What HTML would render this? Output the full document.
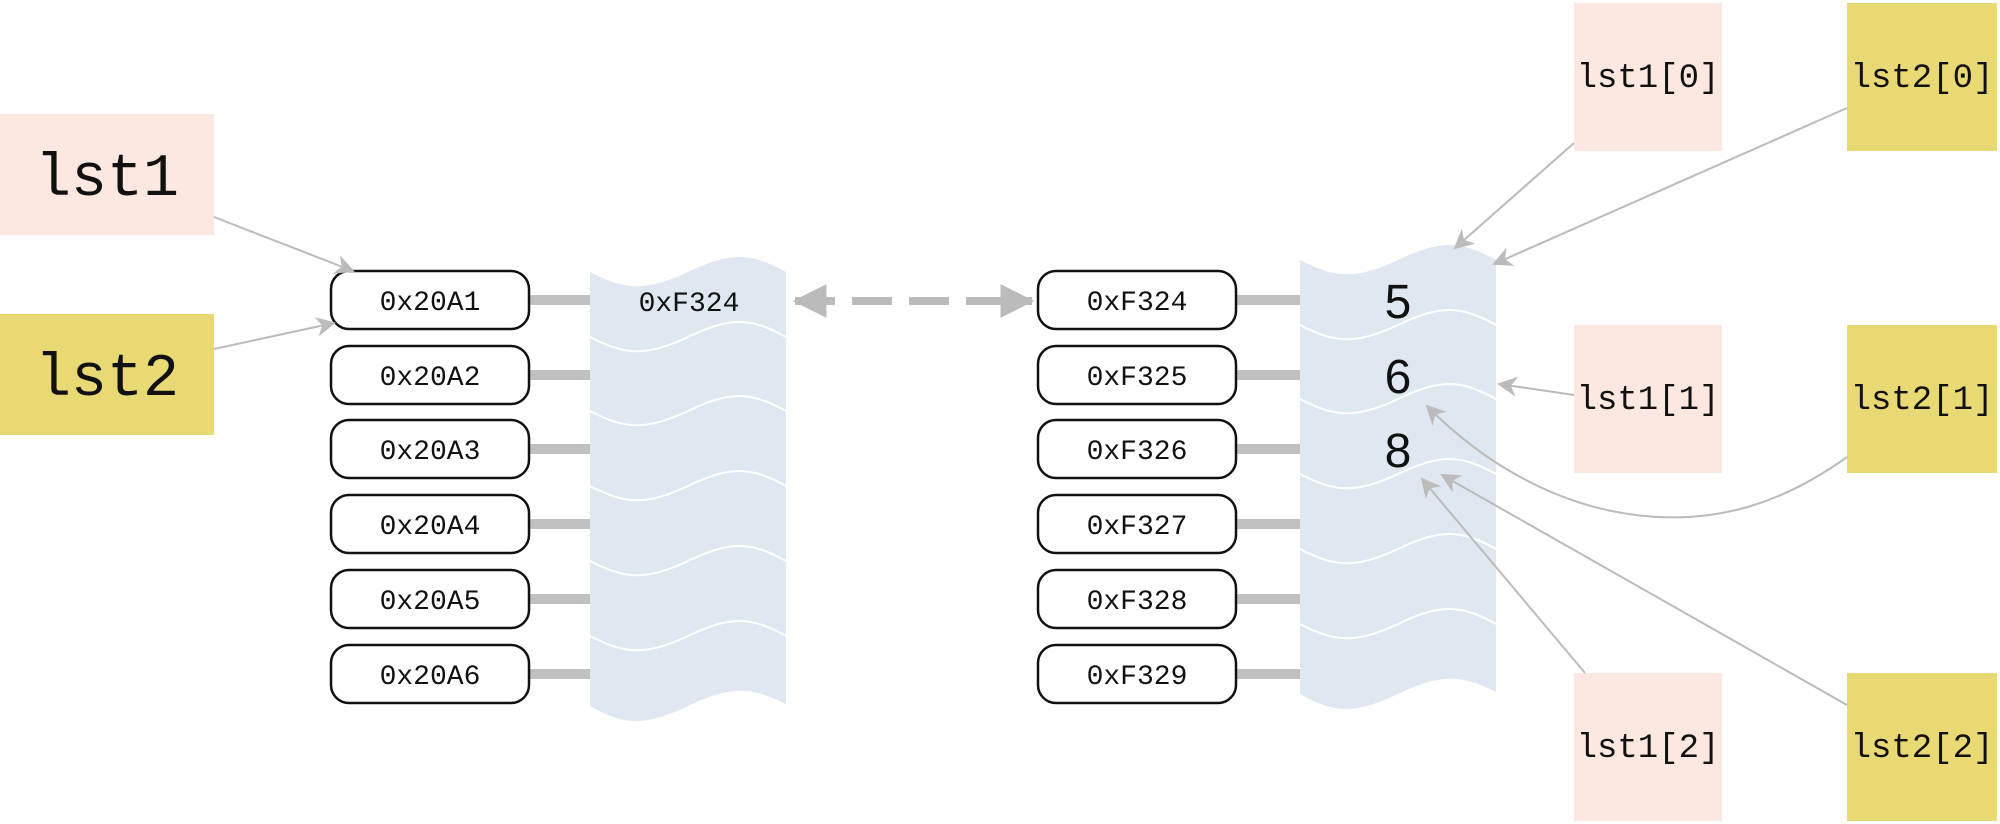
<!DOCTYPE html>
<html><head><meta charset="utf-8"><style>
html,body{margin:0;padding:0;background:#fff;}
svg{display:block;}
text{font-family:"Liberation Mono",monospace;fill:#111;}
</style></head><body>
<svg width="2000" height="824" viewBox="0 0 2000 824" xmlns="http://www.w3.org/2000/svg">
<defs>
<marker id="ah" viewBox="0 0 20 20" refX="18" refY="10" markerWidth="20" markerHeight="20" markerUnits="userSpaceOnUse" orient="auto">
<path d="M0,0 L20,10 L0,20 L6,10 Z" fill="#bbb"/>
</marker>
<marker id="big" viewBox="0 0 30 30" refX="28" refY="15" markerWidth="34" markerHeight="34" markerUnits="userSpaceOnUse" orient="auto-start-reverse">
<path d="M0,0 L30,15 L0,30 Z" fill="#bbb"/>
</marker>
<g id="strip">
<path d="M0,272 C35,290 55,292 98,272 C140,252 160,252 196,272 L196,704 C160,686 140,686 98,706 C55,726 35,726 0,706 Z" fill="#dfe7f0"/>
<g fill="none" stroke="#fff" stroke-width="2">
<path d="M0,337 C35,355 55,357 98,337 C140,317 160,317 196,337"/>
<path d="M0,411 C35,429 55,431 98,411 C140,391 160,391 196,411"/>
<path d="M0,486 C35,504 55,506 98,486 C140,466 160,466 196,486"/>
<path d="M0,561 C35,579 55,581 98,561 C140,541 160,541 196,561"/>
<path d="M0,636 C35,654 55,656 98,636 C140,616 160,616 196,636"/>
</g>
</g>
</defs>

<rect x="0" y="114" width="214" height="121" fill="#fce8e1"/>
<text x="107" y="195" font-size="60" text-anchor="middle">lst1</text>
<rect x="0" y="314" width="214" height="121" fill="#e8d974"/>
<text x="107" y="395" font-size="60" text-anchor="middle">lst2</text>

<use href="#strip" x="590" y="0"/>
<text x="689" y="311" font-size="28" text-anchor="middle">0xF324</text>

<g font-size="28" text-anchor="middle">
<g fill="#c0c0c0">
<rect x="529" y="295" width="61" height="10"/><rect x="529" y="370" width="61" height="10"/>
<rect x="529" y="444" width="61" height="10"/><rect x="529" y="519" width="61" height="10"/>
<rect x="529" y="594" width="61" height="10"/><rect x="529" y="669" width="61" height="10"/>
<rect x="1236" y="295" width="64" height="10"/><rect x="1236" y="370" width="64" height="10"/>
<rect x="1236" y="444" width="64" height="10"/><rect x="1236" y="519" width="64" height="10"/>
<rect x="1236" y="594" width="64" height="10"/><rect x="1236" y="669" width="64" height="10"/>
</g>
<g fill="#fff" stroke="#111" stroke-width="2.5">
<rect x="331" y="271" width="198" height="58" rx="18"/><rect x="331" y="346" width="198" height="58" rx="18"/>
<rect x="331" y="420" width="198" height="58" rx="18"/><rect x="331" y="495" width="198" height="58" rx="18"/>
<rect x="331" y="570" width="198" height="58" rx="18"/><rect x="331" y="645" width="198" height="58" rx="18"/>
<rect x="1038" y="271" width="198" height="58" rx="18"/><rect x="1038" y="346" width="198" height="58" rx="18"/>
<rect x="1038" y="420" width="198" height="58" rx="18"/><rect x="1038" y="495" width="198" height="58" rx="18"/>
<rect x="1038" y="570" width="198" height="58" rx="18"/><rect x="1038" y="645" width="198" height="58" rx="18"/>
</g>
<text x="430" y="310">0x20A1</text><text x="430" y="385">0x20A2</text><text x="430" y="459">0x20A3</text>
<text x="430" y="534">0x20A4</text><text x="430" y="609">0x20A5</text><text x="430" y="684">0x20A6</text>
<text x="1137" y="310">0xF324</text><text x="1137" y="385">0xF325</text><text x="1137" y="459">0xF326</text>
<text x="1137" y="534">0xF327</text><text x="1137" y="609">0xF328</text><text x="1137" y="684">0xF329</text>
</g>

<line x1="795" y1="301" x2="1032" y2="301" stroke="#bbb" stroke-width="8" stroke-dasharray="40,17" marker-start="url(#big)" marker-end="url(#big)"/>

<use href="#strip" x="1300" y="-12"/>
<g font-size="48" text-anchor="middle">
<text x="1398" y="318" style="font-family:'Liberation Sans',sans-serif">5</text>
<text x="1398" y="393" style="font-family:'Liberation Sans',sans-serif">6</text>
<text x="1398" y="467" style="font-family:'Liberation Sans',sans-serif">8</text>
</g>

<g font-size="34" text-anchor="middle">
<rect x="1574" y="3" width="148" height="148" fill="#fce8e1"/><text x="1648" y="87">lst1[0]</text>
<rect x="1847" y="3" width="150" height="148" fill="#e8d974"/><text x="1922" y="87">lst2[0]</text>
<rect x="1574" y="325" width="148" height="148" fill="#fce8e1"/><text x="1648" y="409">lst1[1]</text>
<rect x="1847" y="325" width="150" height="148" fill="#e8d974"/><text x="1922" y="409">lst2[1]</text>
<rect x="1574" y="673" width="148" height="148" fill="#fce8e1"/><text x="1648" y="757">lst1[2]</text>
<rect x="1847" y="673" width="150" height="148" fill="#e8d974"/><text x="1922" y="757">lst2[2]</text>
</g>

<g fill="none" stroke="#bbb" stroke-width="2" marker-end="url(#ah)">
<line x1="214" y1="217" x2="353" y2="271"/>
<line x1="214" y1="349" x2="334" y2="323"/>
<line x1="1574" y1="143" x2="1455" y2="248"/>
<line x1="1847" y1="108" x2="1494" y2="264"/>
<line x1="1574" y1="395" x2="1499" y2="384"/>
<path d="M1847,457 C1780,505 1720,520 1658,517 C1560,512 1480,460 1427,406"/>
<line x1="1585" y1="673" x2="1422" y2="479"/>
<line x1="1847" y1="705" x2="1442" y2="475"/>
</g>
</svg>
</body></html>
